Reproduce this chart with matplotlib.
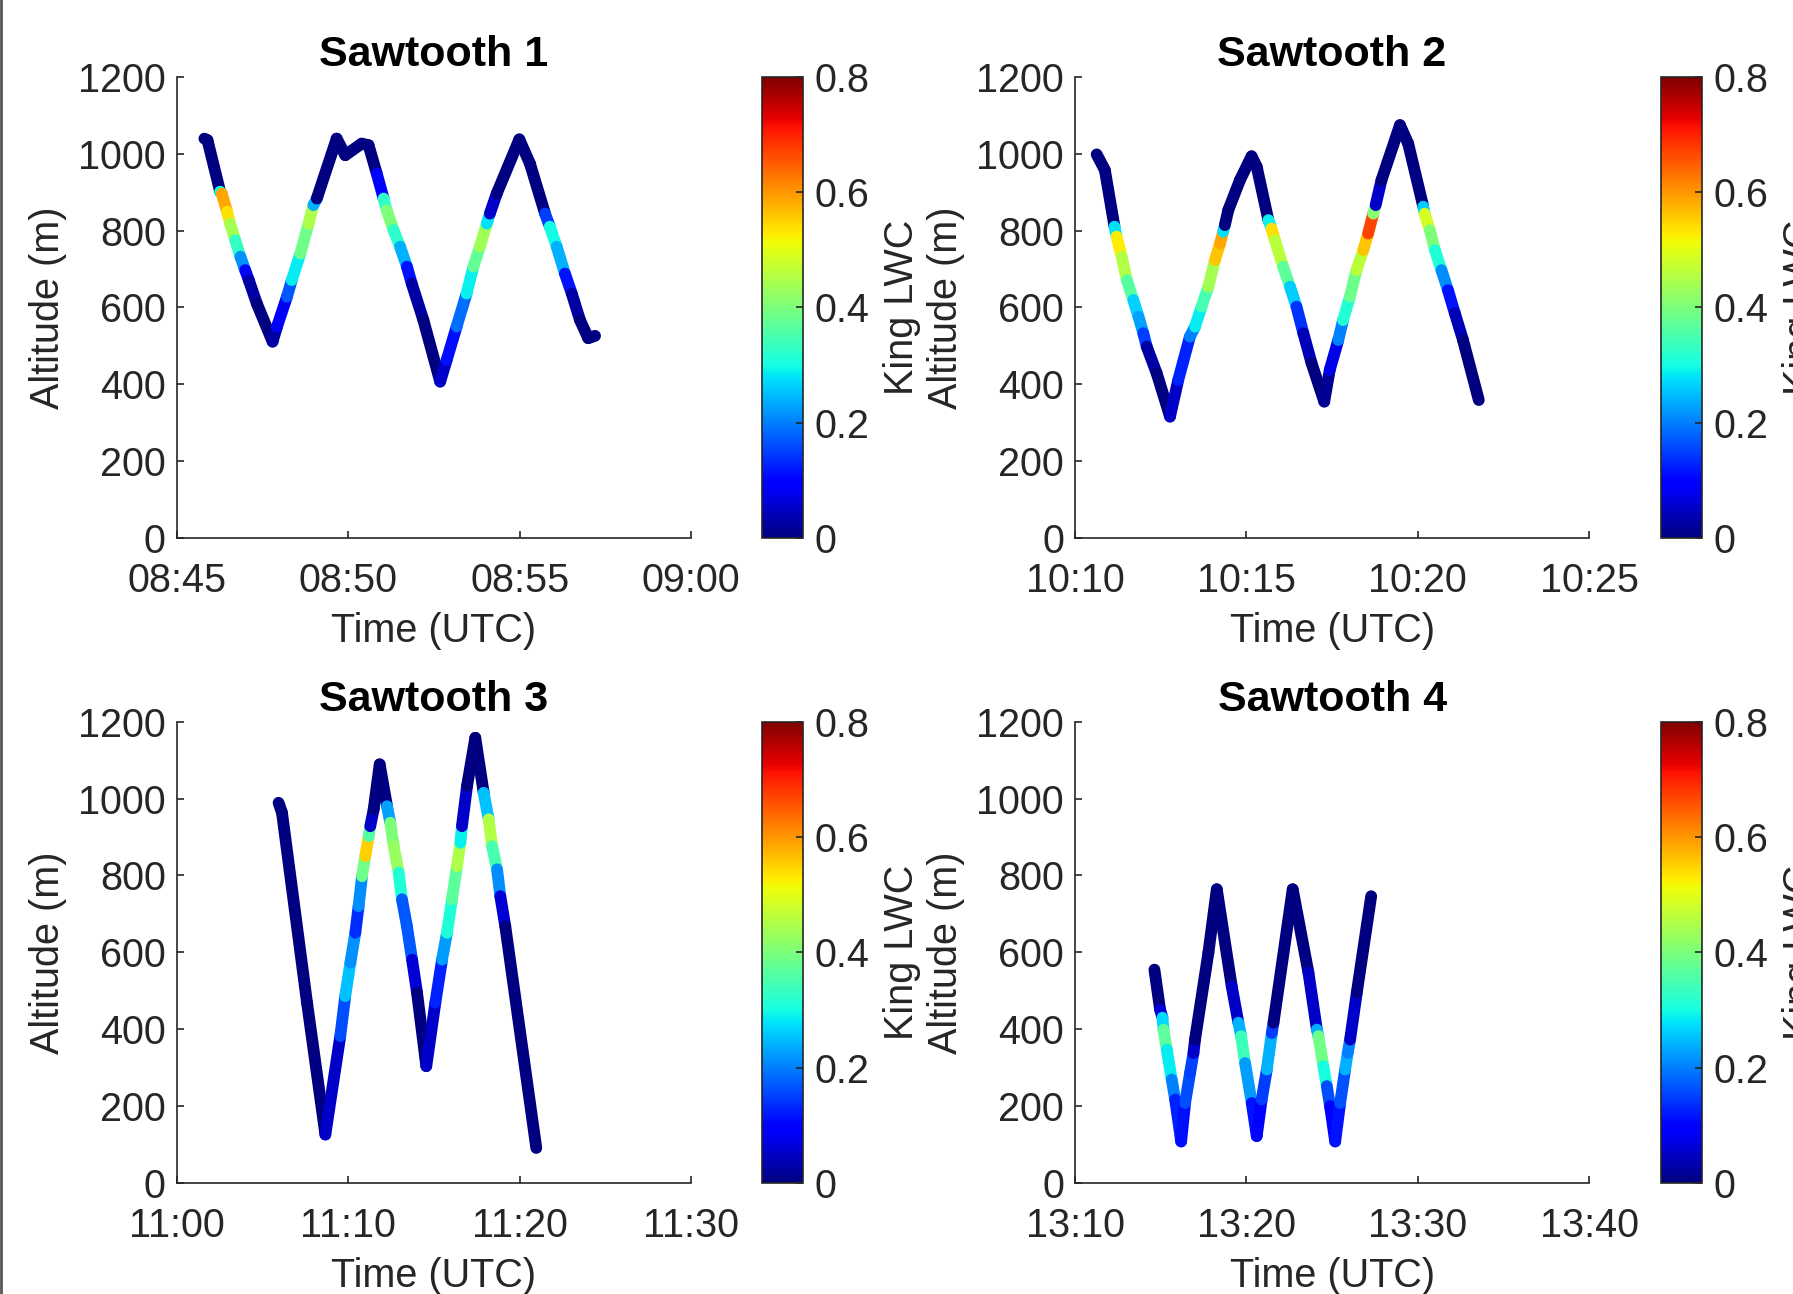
import matplotlib
matplotlib.use('Agg')
import matplotlib.pyplot as plt
import numpy as np
from matplotlib.collections import LineCollection
from matplotlib.colors import Normalize
from matplotlib.lines import Line2D

plt.rcParams['font.family'] = ['Liberation Sans', 'DejaVu Sans']
plt.rcParams['font.size'] = 28.5

# flight legs: minutes past the start hour, altitude (m), King LWC (g/m3)
titles = ['Sawtooth 1', 'Sawtooth 2', 'Sawtooth 3', 'Sawtooth 4']
start_hours = [8, 10, 11, 13]
xtick_labels = [['08:45', '08:50', '08:55', '09:00'],
                ['10:10', '10:15', '10:20', '10:25'],
                ['11:00', '11:10', '11:20', '11:30'],
                ['13:10', '13:20', '13:30', '13:40']]
ytick_values = [0, 200, 400, 600, 800, 1000, 1200]
cbar_ticks = [0, 0.2, 0.4, 0.6, 0.8]

time_1 = [45.80, 45.89, 46.26, 46.31, 46.46, 46.55, 46.70, 46.85, 46.99, 47.10,
          47.33, 47.79, 47.92, 48.21, 48.35, 48.60, 48.84, 48.98, 49.08, 49.66,
          49.91, 50.39, 50.59, 50.83, 51.03, 51.12, 51.32, 51.51, 51.71, 51.85,
          52.19, 52.68, 52.87, 53.16, 53.45, 53.65, 53.84, 54.04, 54.13, 54.33,
          54.99, 55.30, 55.74, 55.88, 56.08, 56.32, 56.52, 56.76, 57.00, 57.20]
alt_1 = [1039, 1035, 901, 896, 849, 818, 775, 732, 697, 670,
         610, 511, 550, 628, 671, 740, 818, 866, 883, 1039,
         996, 1026, 1022, 948, 883, 853, 801, 758, 706, 662,
         567, 407, 463, 550, 636, 706, 758, 818, 844, 896,
         1037, 974, 844, 810, 758, 688, 636, 567, 520, 526]
lwc_1 = [0, 0, 0, 0.6, 0.57, 0.5, 0.38, 0.28, 0.15, 0.05,
         0, 0, 0.05, 0.12, 0.22, 0.35, 0.42, 0.48, 0, 0,
         0, 0, 0, 0, 0.2, 0.45, 0.35, 0.3, 0.18, 0.05,
         0, 0, 0.1, 0.12, 0.25, 0.33, 0.42, 0.45, 0.1, 0,
         0, 0, 0, 0.3, 0.3, 0.18, 0.05, 0, 0, 0]

time_2 = [10.63, 10.87, 11.15, 11.21, 11.36, 11.51, 11.70, 11.85, 11.99, 12.09,
          12.38, 12.77, 13.01, 13.35, 13.50, 13.69, 13.89, 14.08, 14.23, 14.32,
          14.37, 14.47, 14.81, 15.15, 15.30, 15.64, 15.73, 15.83, 16.07, 16.27,
          16.46, 16.66, 16.90, 17.27, 17.43, 17.68, 17.82, 18.02, 18.21, 18.41,
          18.55, 18.70, 18.77, 18.94, 19.48, 19.72, 20.16, 20.20, 20.35, 20.50,
          20.69, 20.88, 21.08, 21.32, 21.78]
alt_2 = [998, 957, 810, 784, 732, 671, 619, 576, 533, 498,
         429, 316, 411, 524, 550, 602, 654, 723, 766, 797,
         814, 853, 931, 993, 966, 827, 805, 775, 706, 654,
         602, 533, 455, 355, 437, 515, 567, 628, 697, 749,
         792, 844, 866, 931, 1074, 1026, 862, 844, 801, 749,
         697, 645, 585, 515, 359]
lwc_2 = [0, 0, 0, 0.55, 0.5, 0.4, 0.33, 0.2, 0.25, 0.05,
         0, 0, 0.1, 0.15, 0.25, 0.32, 0.38, 0.5, 0.62, 0.55,
         0, 0, 0, 0, 0, 0, 0.58, 0.5, 0.42, 0.32,
         0.2, 0.08, 0, 0, 0.03, 0.12, 0.28, 0.35, 0.42, 0.5,
         0.62, 0.72, 0.1, 0, 0, 0, 0, 0.52, 0.45, 0.35,
         0.27, 0.15, 0.08, 0, 0]

time_3 = [5.93, 6.13, 7.59, 8.66, 9.53, 9.82, 10.12, 10.41, 10.60, 10.80,
          10.99, 11.19, 11.28, 11.48, 11.83, 12.26, 12.45, 12.65, 12.94, 13.13,
          13.42, 13.72, 14.01, 14.55, 15.08, 15.47, 15.76, 16.05, 16.34, 16.54,
          16.63, 16.93, 17.41, 17.90, 18.19, 18.39, 18.68, 18.87, 19.16, 20.97]
alt_3 = [989, 963, 469, 126, 382, 486, 573, 651, 720, 798,
         850, 902, 928, 972, 1089, 980, 937, 876, 807, 738,
         668, 581, 495, 304, 469, 581, 651, 738, 824, 885,
         928, 1033, 1158, 1015, 946, 876, 816, 746, 668, 91]
lwc_3 = [0, 0, 0, 0, 0.1, 0.22, 0.28, 0.15, 0.12, 0.3,
         0.48, 0.62, 0.1, 0, 0, 0, 0.45, 0.35, 0.5, 0.12,
         0.22, 0.12, 0, 0, 0.1, 0.15, 0.3, 0.32, 0.42, 0.48,
         0.1, 0, 0, 0, 0.5, 0.4, 0.3, 0.12, 0, 0]

time_4 = [14.63, 14.96, 15.10, 15.16, 15.35, 15.64, 15.84, 16.19, 16.42, 16.71,
          16.91, 17.00, 17.78, 18.27, 19.14, 19.53, 19.69, 19.92, 20.31, 20.60,
          20.89, 21.19, 21.48, 21.58, 22.70, 23.62, 24.11, 24.20, 24.49, 24.69,
          24.88, 25.18, 25.47, 25.76, 25.91, 26.05, 26.44, 27.28]
alt_4 = [555, 451, 430, 399, 347, 269, 217, 108, 208, 286,
         338, 373, 599, 764, 512, 417, 382, 312, 208, 122,
         217, 295, 390, 417, 764, 547, 399, 382, 304, 252,
         200, 108, 208, 295, 338, 373, 495, 746]
lwc_4 = [0, 0, 0.12, 0.42, 0.32, 0.25, 0.15, 0.1, 0.12, 0.2,
         0.1, 0, 0, 0, 0, 0.1, 0.38, 0.3, 0.15, 0.08,
         0.12, 0.18, 0.3, 0, 0, 0, 0.1, 0.38, 0.4, 0.2,
         0.12, 0.08, 0.15, 0.18, 0.3, 0.1, 0, 0]

legs = [(time_1, alt_1, lwc_1), (time_2, alt_2, lwc_2),
        (time_3, alt_3, lwc_3), (time_4, alt_4, lwc_4)]


def hhmm_to_min(s):
    h, m = s.split(':')
    return int(h) * 60 + int(m)


fig = plt.figure(figsize=(17.93, 12.94), dpi=100)
fig.patch.set_facecolor('white')

ax_left = [0.0987, 0.5996]
cb_left = [0.4250, 0.9264]
row_bottom = [0.5842, 0.0858]
ax_w, ax_h, cb_w = 0.2867, 0.3565, 0.0229
txt = '#262626'
norm = Normalize(vmin=0, vmax=0.8)

for i, (t, alt, lwc) in enumerate(legs):
    r, c = divmod(i, 2)
    ax = fig.add_axes([ax_left[c], row_bottom[r], ax_w, ax_h])
    cax = fig.add_axes([cb_left[c], row_bottom[r], cb_w, ax_h])

    x = start_hours[i] * 60 + np.asarray(t)
    y = np.asarray(alt, dtype=float)
    v = np.asarray(lwc)
    pts = np.column_stack([x, y]).reshape(-1, 1, 2)
    segs = np.concatenate([pts[:-1], pts[1:]], axis=1)
    lc = LineCollection(segs, cmap='jet', norm=norm, linewidths=8.5,
                        capstyle='round', joinstyle='round')
    lc.set_array((v[:-1] + v[1:]) / 2)
    ax.add_collection(lc)

    xt = [hhmm_to_min(s) for s in xtick_labels[i]]
    ax.set_xlim(xt[0], xt[-1])
    ax.set_ylim(0, 1200)
    ax.set_xticks(xt)
    ax.set_xticklabels(xtick_labels[i])
    ax.set_yticks(ytick_values)
    for side in ['top', 'right']:
        ax.spines[side].set_visible(False)
    for side in ['left', 'bottom']:
        ax.spines[side].set_color(txt)
        ax.spines[side].set_linewidth(1.2)
    ax.tick_params(direction='in', length=5, width=1.2, color=txt,
                   labelcolor=txt)
    ax.tick_params(axis='x', pad=17)
    ax.tick_params(axis='y', pad=8)
    ax.set_xlabel('Time (UTC)', color=txt, labelpad=9)
    ax.set_ylabel('Altitude (m)', color=txt, labelpad=8)
    ax.set_title(titles[i], fontsize=31, fontweight='bold', pad=8)

    cb = fig.colorbar(lc, cax=cax, ticks=cbar_ticks)
    cb.ax.set_yticklabels(['0', '0.2', '0.4', '0.6', '0.8'])
    cb.outline.set_edgecolor(txt)
    cb.outline.set_linewidth(1.2)
    cb.ax.tick_params(direction='in', length=5, width=1.2, color=txt,
                      labelcolor=txt, pad=8)
    cb.set_label('King LWC', color=txt, labelpad=10)

# thin frame line on the left edge of the figure
fig.add_artist(Line2D([0.0006, 0.0006], [0, 1], transform=fig.transFigure,
                      color='#555555', lw=2))

fig.savefig('out.png', dpi=100)
